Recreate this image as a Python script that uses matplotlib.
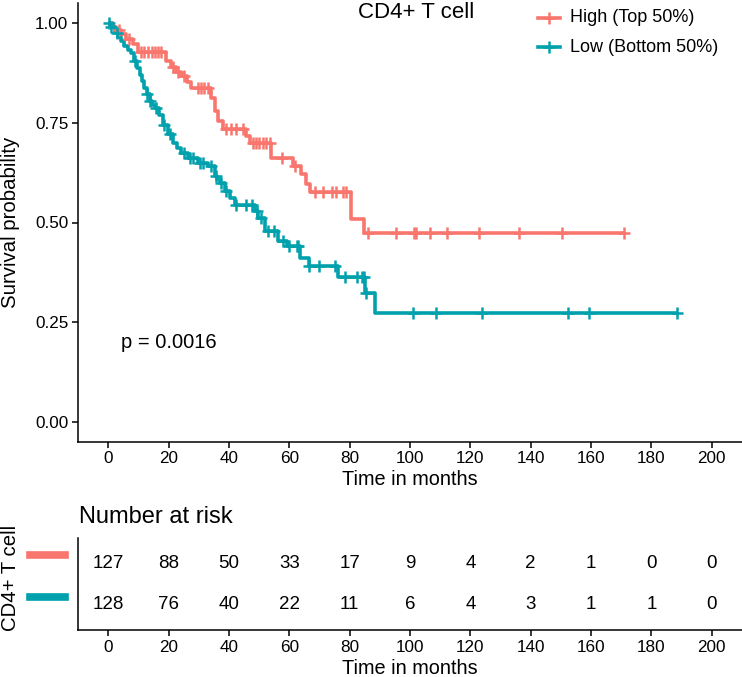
import numpy as np
import matplotlib
matplotlib.use("Agg")
import matplotlib.pyplot as plt
from matplotlib.lines import Line2D
import matplotlib.transforms as mtransforms

plt.rcParams['font.family'] = ['Liberation Sans', 'DejaVu Sans']

# ---- data ----
high_label = "High (Top 50%)"
low_label = "Low (Bottom 50%)"
high_color = "#F8766D"
low_color = "#00A1AD"

high_times = [0, 1.5, 2.7, 4.3, 6.0, 8.2, 9.9, 19.2, 20.9, 22.5, 24.2, 26.0, 27.5,
              34.2, 35.3, 36.4, 38.0, 45.8, 46.9, 54.1, 61.3, 64.0, 65.7, 66.8, 80.5, 84.7]
high_surv = [1.0, 0.992, 0.984, 0.972, 0.96, 0.948, 0.929, 0.906, 0.89, 0.878, 0.867, 0.853, 0.838,
             0.812, 0.78, 0.756, 0.734, 0.717, 0.70, 0.662, 0.642, 0.621, 0.597, 0.577, 0.508, 0.474]
high_end = 171.0
high_censor = [3.5, 7.0, 11.0, 12.0, 13.2, 14.5, 15.5, 16.5, 17.5, 21.5, 23.0, 25.0,
               29.7, 30.8, 31.9, 33.0, 39.1, 40.8, 42.5, 44.7, 48.0, 49.0, 50.0, 51.3, 52.4, 53.5,
               57.5, 62.0, 68.4, 71.2, 74.0, 75.6, 77.8, 78.9, 86.2, 95.5, 101.2, 102.0,
               106.5, 112.2, 123.0, 136.0, 150.5, 171.0]

low_times = [0, 0.5, 2.1, 3.2, 4.3, 5.4, 6.5, 7.6, 8.7, 9.5, 10.4, 11.2, 12.0, 12.8, 13.7, 14.5,
             15.4, 17.0, 18.1, 19.8, 21.4, 22.8, 24.2, 26.4, 29.7, 33.0, 35.3, 36.2, 36.9, 38.6,
             40.2, 41.9, 48.8, 49.6, 51.9, 56.4, 59.4, 63.4, 66.7, 76.2, 85.2, 88.3]
low_surv = [1.0, 0.992, 0.976, 0.965, 0.955, 0.942, 0.934, 0.926, 0.905, 0.888, 0.871, 0.855,
            0.838, 0.822, 0.805, 0.796, 0.788, 0.771, 0.745, 0.721, 0.70, 0.688, 0.675, 0.662,
            0.65, 0.642, 0.617, 0.608, 0.60, 0.579, 0.562, 0.545, 0.528, 0.512, 0.478, 0.453,
            0.44, 0.41, 0.391, 0.362, 0.324, 0.274]
low_end = 188.4
low_censor = [0.4, 1.0, 3.0, 9.0, 13.0, 14.0, 16.0, 18.5, 20.5, 25.0, 27.0, 28.0, 30.5, 31.5,
              34.0, 35.8, 37.5, 39.0, 42.5, 45.8, 47.5, 49.3, 50.5, 53.0, 55.0, 58.0, 60.0,
              62.4, 63.0, 66.7, 70.0, 75.0, 78.3, 82.3, 84.0, 84.8, 85.5,
              101.0, 108.7, 123.7, 152.2, 159.2, 188.4]

p_text = "p = 0.0016"
title = "CD4+ T cell"

risk_times = [0, 20, 40, 60, 80, 100, 120, 140, 160, 180, 200]
risk_high = [127, 88, 50, 33, 17, 9, 4, 2, 1, 0, 0]
risk_low = [128, 76, 40, 22, 11, 6, 4, 3, 1, 1, 0]

xticks = [0, 20, 40, 60, 80, 100, 120, 140, 160, 180, 200]
yticks = [0.0, 0.25, 0.5, 0.75, 1.0]
yticklabels = ["0.00", "0.25", "0.50", "0.75", "1.00"]

W, H = 742, 677
fig = plt.figure(figsize=(W / 100, H / 100), dpi=100)

def fx(px):
    return px / W

def fy(py):
    return 1 - py / H

ax = fig.add_axes([fx(78), fy(441.6), fx(742 - 78), (441.6 - 3.4) / H])
axt = fig.add_axes([fx(78), fy(630), fx(742 - 78), (630 - 538) / H])

def surv_at(times, surv, t):
    idx = np.searchsorted(np.array(times), t, side='right') - 1
    return surv[max(idx, 0)]

lw = 2.6
ms, mew = 9, 1.8
for times, surv, end, cens, col in [(high_times, high_surv, high_end, high_censor, high_color),
                                    (low_times, low_surv, low_end, low_censor, low_color)]:
    tt = list(times) + [end]
    ss = list(surv) + [surv[-1]]
    ax.step(tt, ss, where='post', color=col, lw=lw, solid_capstyle='butt', zorder=3)
    cy = [surv_at(times, surv, c) for c in cens]
    ax.plot(cens, cy, ls='none', marker='+', ms=ms, mew=mew, color=col, zorder=4)

ax.set_xlim(-10, 210)
ax.set_ylim(-0.05, 1.05)
ax.set_xticks(xticks)
ax.set_xticklabels([str(v) for v in xticks])
ax.set_yticks(yticks)
ax.set_yticklabels(yticklabels)
for a in (ax, axt):
    for s in ('top', 'right'):
        a.spines[s].set_visible(False)
    for s in ('left', 'bottom'):
        a.spines[s].set_linewidth(1.1)
    a.tick_params(axis='both', direction='out', length=4, width=1.1, labelsize=12.3,
                  colors='black', pad=3)
ax.set_xlabel("Time in months", fontsize=14.3, labelpad=3)
ax.set_ylabel("Survival probability", fontsize=14.7)
ax.yaxis.set_label_coords((11 - 78) / 664, 0.5)
ax.yaxis.label.set_verticalalignment('center')

ax.text(4.2, 0.198, p_text, fontsize=14.5, ha='left', va='center')
fig.text(fx(416), fy(13), title, fontsize=16, ha='center', va='center')

# legend (manual)
for py, lab, col in [(18, high_label, high_color), (47, low_label, low_color)]:
    fig.add_artist(Line2D([fx(538), fx(560)], [fy(py), fy(py)], color=col, lw=lw))
    fig.add_artist(Line2D([fx(549)], [fy(py)], marker='+', ms=ms, mew=mew, color=col))
    fig.text(fx(570), fy(py), lab, fontsize=13, ha='left', va='center')

# risk table
axt.set_xlim(-10, 210)
axt.set_ylim(0.4, 2.6)
for t, h, l in zip(risk_times, risk_high, risk_low):
    axt.text(t, 2, str(h), ha='center', va='center', fontsize=13.5)
    axt.text(t, 1, str(l), ha='center', va='center', fontsize=13.5)
axt.set_xticks(xticks)
axt.set_xticklabels([str(v) for v in xticks])
axt.set_yticks([])
axt.set_xlabel("Time in months", fontsize=14.3, labelpad=3)
trans = mtransforms.blended_transform_factory(fig.transFigure, axt.transData)
for yv, col in [(2, high_color), (1, low_color)]:
    axt.add_line(Line2D([fx(30), fx(65)], [yv + 0.19, yv + 0.19], color=col, lw=5.5,
                        transform=trans, clip_on=False))
fig.text(fx(79), fy(517), "Number at risk", fontsize=17, ha='left', va='center')
fig.text(fx(11), fy(578), title, fontsize=14.7, rotation=90, ha='center', va='center')

fig.savefig("out.png", dpi=100)
